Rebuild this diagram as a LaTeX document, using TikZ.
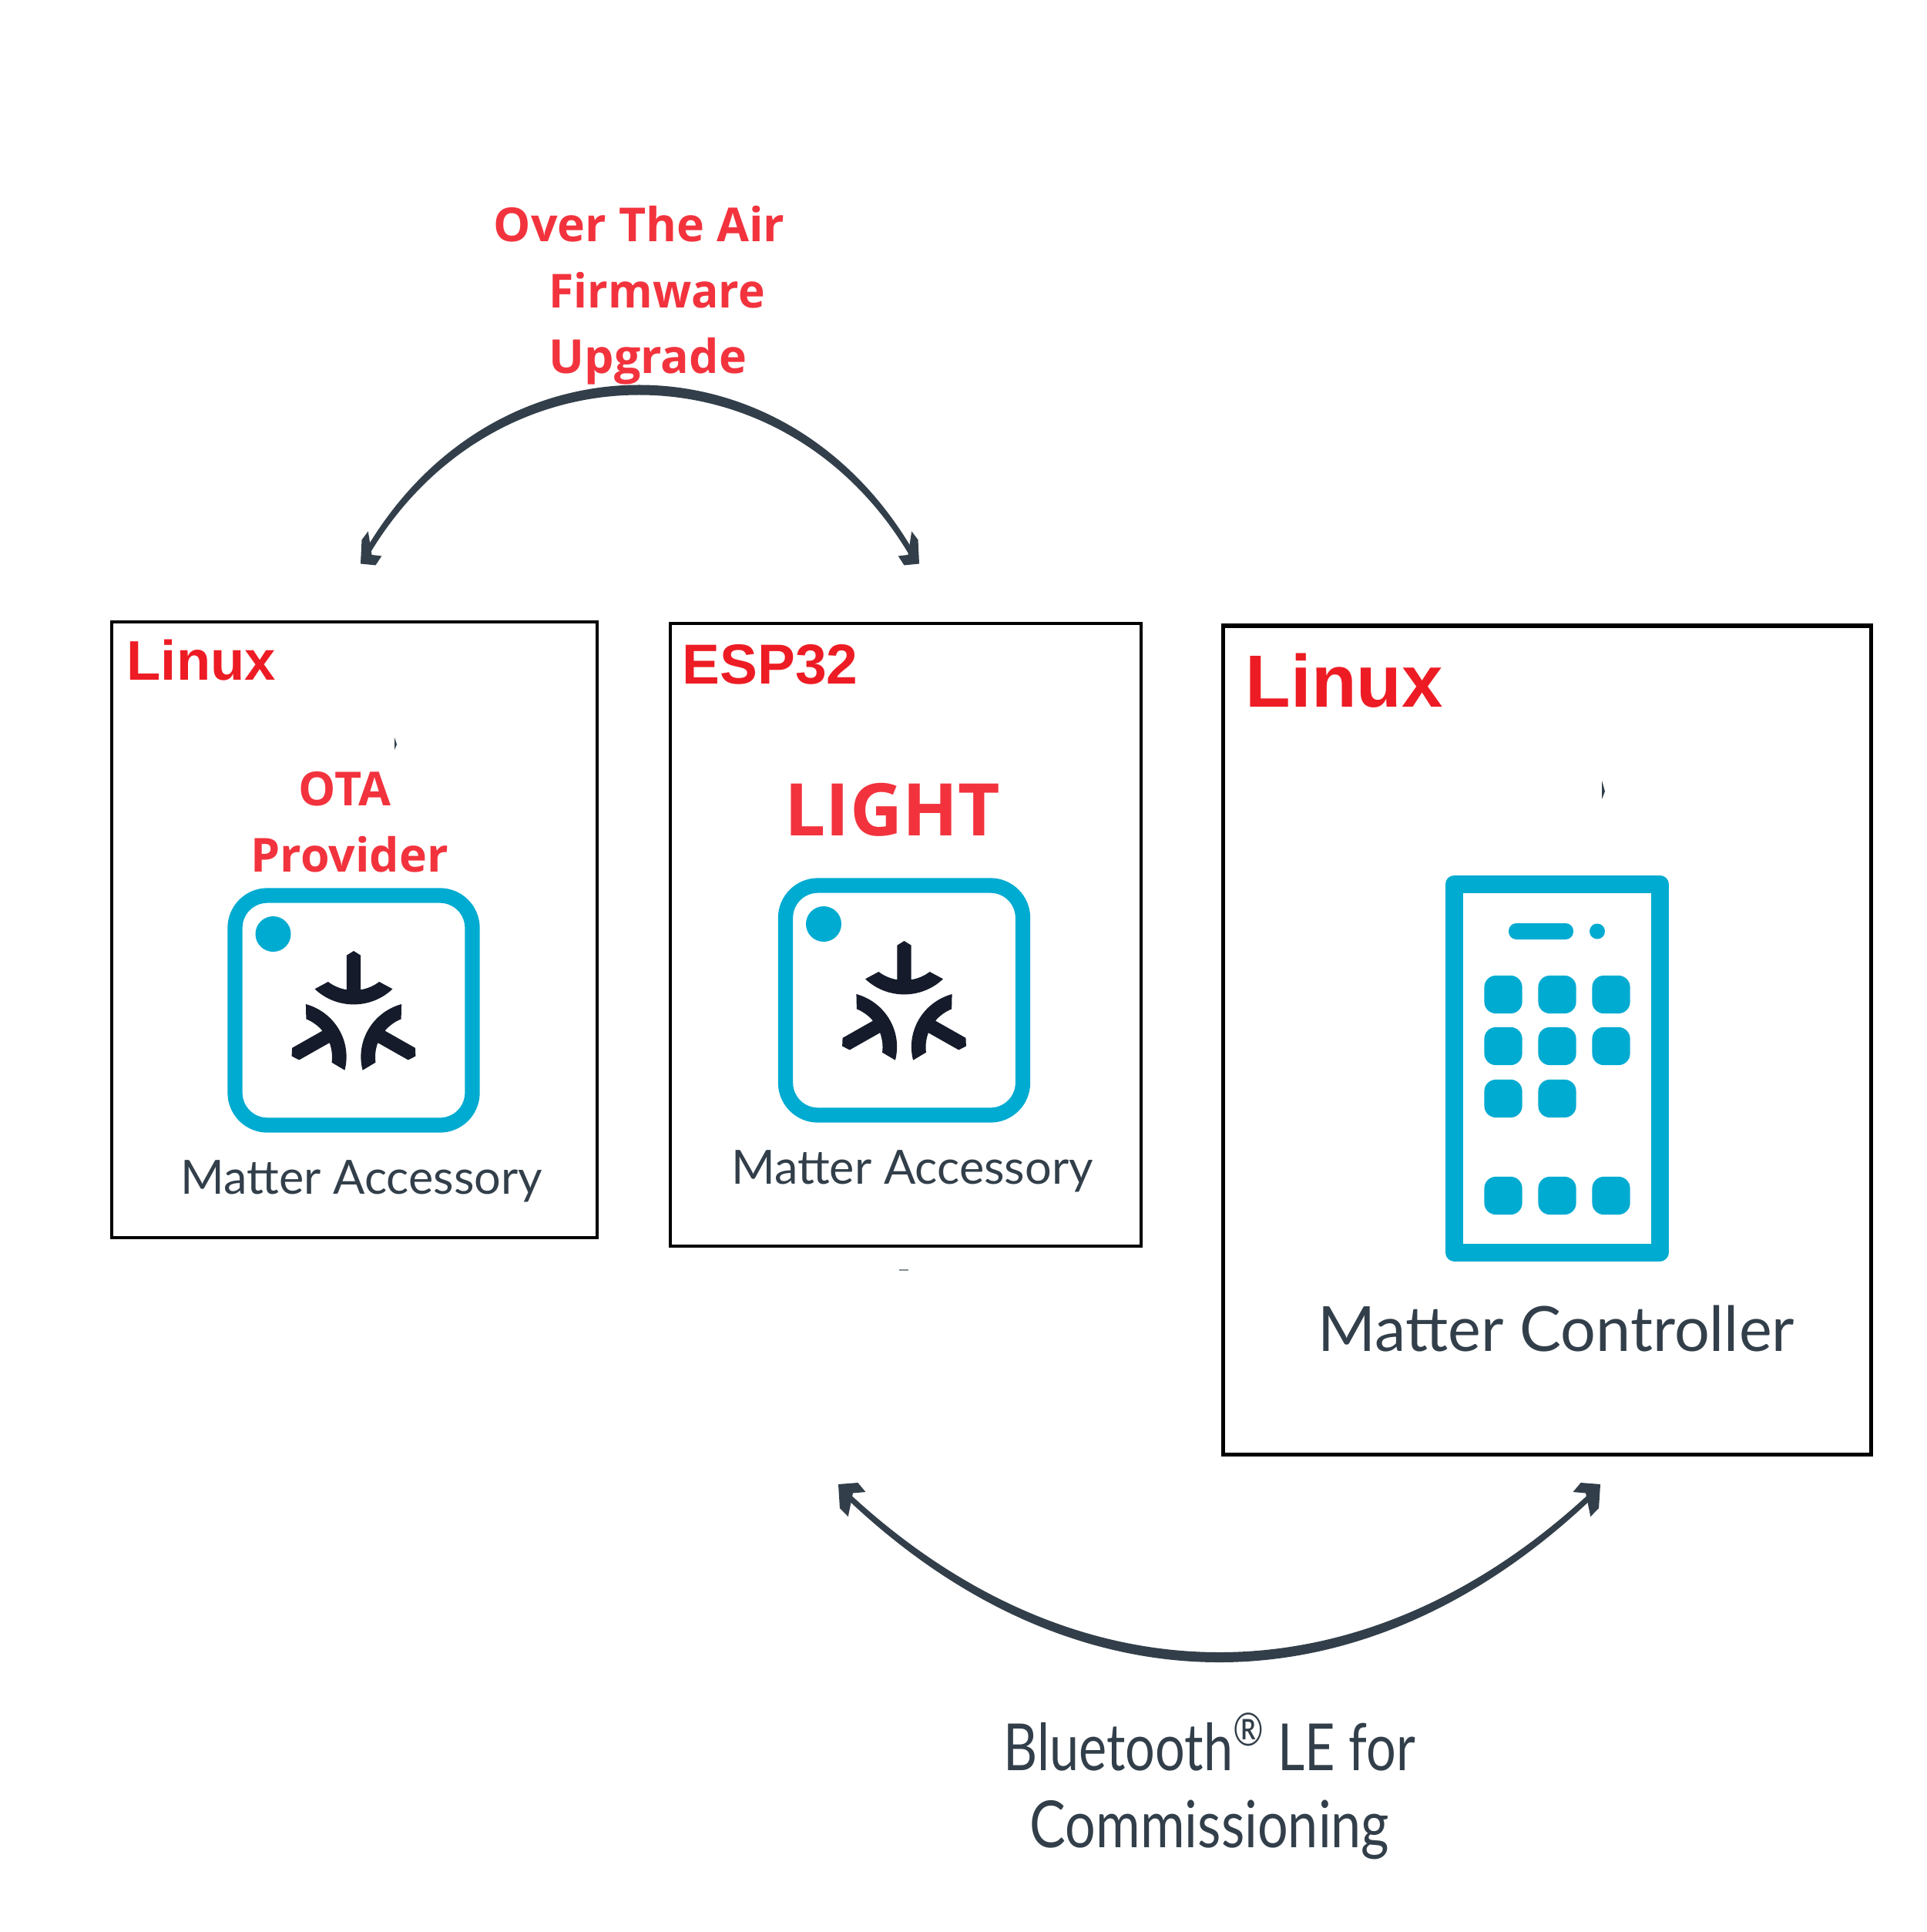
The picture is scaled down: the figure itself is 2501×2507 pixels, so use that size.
\documentclass[tikz,border=0pt]{standalone}
\usepackage{fontspec}
\setmainfont{Lato}
\newfontfamily\redfont{Open Sans}
\newfontfamily\osfont{Liberation Sans}
\definecolor{mattercyan}{HTML}{00ABD1}
\definecolor{matterink}{HTML}{151B2A}
\definecolor{arcgray}{HTML}{323F4A}
\definecolor{labelred}{HTML}{F2333D}
\definecolor{osred}{HTML}{ED1C24}
\tikzset{
  px/.style={x=0.01cm,y=-0.01cm},
  osbox/.style={draw=black,line width=0.04cm,inner sep=0pt,outer sep=0pt,anchor=north west},
  oslabel/.style={text=osred,anchor=base west,inner sep=0pt},
  otalabel/.style={font=\redfont\bfseries\fontsize{17.3}{17.3}\selectfont,text=labelred,anchor=base west,inner sep=0pt},
  graylabel/.style={text=arcgray,anchor=base,inner sep=0pt},
  arcline/.style={draw=arcgray,fill=arcgray,line width=0.07cm,line join=round},
  archead/.pic={\fill[arcgray] (0,0) -- (19.5,2) -- (27.3,-10) -- (14.6,-11.5) -- (9.8,-42) -- (1.5,-31) -- cycle;},
  % rounded square with the three armed mark
  accessory/.pic={
    \draw[mattercyan,line width=0.193cm,rounded corners=0.42cm] (-154,-149) rectangle (154,149);
    \fill[mattercyan] (-104.5,-99) circle (23);
    \begin{scope}[xscale=1.02]
    \foreach \a in {0,120,240}
      \fill[matterink,rotate around={\a:(0,14)},shift={(0,14)}] (0,-91) -- (9,-85.3) -- (9,-40.7)
        .. controls (17.5,-42.2) and (25.7,-45.7) .. (32.5,-51) -- (49.5,-41.7)
        .. controls (21.9,-14.9) and (-21.9,-14.9) .. (-49.5,-41.7) -- (-32.5,-51)
        .. controls (-25.7,-45.7) and (-17.5,-42.2) .. (-9,-40.7) -- (-9,-85.3) -- cycle;
    \end{scope}
  },
  appkey/.style={fill=mattercyan,rounded corners=0.15cm}
}
\begin{document}
\begin{tikzpicture}[px]
  \useasboundingbox (0,0) rectangle (2501,2507);

  \node (box1) at (144.7,807) [osbox,minimum width=6.30cm,minimum height=7.99cm]{};
  \node (box2) at (870,809) [osbox,minimum width=6.11cm,minimum height=8.08cm]{};
  \node (box3) at (1587,812) [osbox,line width=0.05cm,minimum width=8.41cm,minimum height=10.75cm]{};

  \node (os1) at (164,882) [oslabel,font=\osfont\bfseries\fontsize{20.6}{20.6}\selectfont]{Linux};
  \node (os2) at (885,887) [oslabel,font=\osfont\bfseries\fontsize{20.8}{20.8}\selectfont]{ESP32};
  \node (os3) at (1616,917) [oslabel,font=\osfont\bfseries\fontsize{27.3}{27.3}\selectfont]{Linux};

  \node (ota1) at (640,314) [otalabel]{Over The Air};
  \node (ota2) at (712,400) [otalabel,xscale=0.965,transform shape]{Firmware};
  \node (ota3) at (712,485) [otalabel]{Upgrade};
  \node (prov1) at (387,1045) [otalabel]{OTA};
  \node (prov2) at (325,1131) [otalabel]{Provider};
  \node (light) at (1018,1084) [otalabel,font=\redfont\bfseries\fontsize{26.8}{26.8}\selectfont]{LIGHT};

  \pic (acc1) at (459,1311) {accessory};
  \pic (acc2) at (1173.5,1298) {accessory};

  \node (name1) at (469.5,1549) [graylabel,font=\fontsize{17.4}{17.4}\selectfont]{Matter Accessory};
  \node (name2) at (1184,1536) [graylabel,font=\fontsize{17.4}{17.4}\selectfont]{Matter Accessory};
  \node (name3) at (2020,1753) [graylabel,font=\fontsize{23}{23}\selectfont]{Matter Controller};

  % phone
  \draw[mattercyan,line width=0.23cm,line join=round] (1887.5,1147) rectangle (2154,1625);
  \fill[mattercyan,rounded corners=0.1cm] (1958,1198) rectangle (2042,1219);
  \fill[mattercyan] (2073,1208.5) circle (10);
  \foreach \y in {1290.5,1357.5,1551.5}
    \foreach \x in {1951,2021,2091}
      \fill[appkey] (\x-24.6,\y-24.6) rectangle (\x+24.6,\y+24.6);
  \foreach \x in {1951,2021}
    \fill[appkey] (\x-24.6,1425.5-24.6) rectangle (\x+24.6,1425.5+24.6);

  % stray marks
  \fill[arcgray] (512,957) -- (515,966) -- (512,973) -- cycle;
  \fill[arcgray] (2079,1013) -- (2083,1027) -- (2079,1037) -- cycle;
  \fill[arcgray!60] (1167,1647) rectangle (1179,1649);

  % arcs
  \coordinate (otaL) at (472,725);
  \coordinate (otaR) at (1187,725);
  \draw[arcline] (otaL) .. controls (637,429) and (1022,429) .. (otaR)
    .. controls (1022,437) and (637,437) .. cycle;
  \pic at (468,731.5) {archead};
  \pic[xscale=-1] at (1193,731.5) {archead};

  \coordinate (bleL) at (1095,1936);
  \coordinate (bleR) at (2070,1936);
  \draw[arcline] (bleL) .. controls (1395,2226) and (1770,2226) .. (bleR)
    .. controls (1770,2218) and (1395,2218) .. cycle;
  \pic[xscale=1.3,yscale=-1] at (1088,1926) {archead};
  \pic[xscale=-1.3,yscale=-1] at (2077,1926) {archead};

  \node (ble1) at (1570,2297) [graylabel,font=\fontsize{24}{24}\selectfont,xscale=0.81,transform shape]{Bluetooth\textsuperscript{\textregistered} LE for};
  \node (ble2) at (1570,2397) [graylabel,font=\fontsize{24}{24}\selectfont,xscale=0.83,transform shape]{Commissioning};
\end{tikzpicture}
\end{document}
